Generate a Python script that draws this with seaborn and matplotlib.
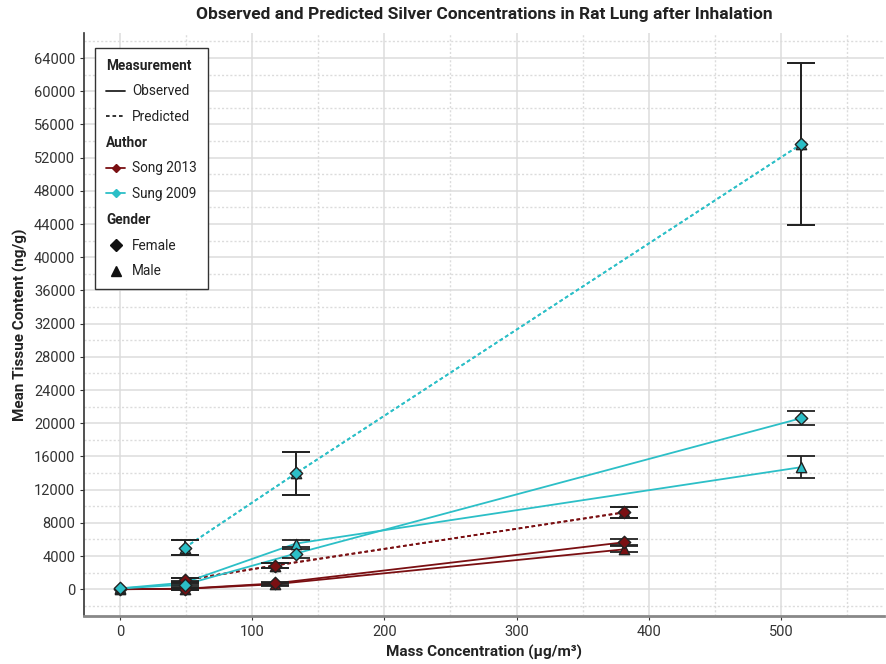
import numpy as np
import pandas as pd
import matplotlib
matplotlib.use("Agg")
import matplotlib.pyplot as plt
from matplotlib.lines import Line2D
from matplotlib.ticker import MultipleLocator
from matplotlib import font_manager
import seaborn as sns

# ---------------- data ----------------
song_x = [0, 49, 117, 381]
song_obs_female = [0, 60, 700, 5650]
song_obs_female_sd = [np.nan, 120, 200, 350]
song_obs_male = [0, 40, 600, 4800]
song_obs_male_sd = [np.nan, 120, 200, 350]

sung_x = [0, 49, 133, 515]
sung_obs_female = [100, 550, 4300, 20600]
sung_obs_female_sd = [np.nan, 200, 500, 850]
sung_obs_male = [100, 800, 5500, 14700]
sung_obs_male_sd = [np.nan, 200, 400, 1350]

song_pred_x = [49, 117, 381]
song_pred = [1100, 2850, 9250]
song_pred_sd = [250, 300, 650]

sung_pred_x = [49, 133, 515]
sung_pred = [5000, 13950, 53600]
sung_pred_sd = [900, 2600, 9750]

authors = ["Song 2013", "Sung 2009"]
author_colors = {"Song 2013": "#7a0f12", "Sung 2009": "#2cbfc7"}
gender_markers = {"Female": "D", "Male": "^"}
y_ticks = list(range(0, 64001, 4000))
x_ticks = [0, 100, 200, 300, 400, 500]

rows = []
def add(author, meas, gender, xs, ys, sds):
    for x, y, s in zip(xs, ys, sds):
        rows.append(dict(Author=author, Measurement=meas, Gender=gender, x=x, y=y, sd=s))

add("Song 2013", "Observed", "Female", song_x, song_obs_female, song_obs_female_sd)
add("Song 2013", "Observed", "Male", song_x, song_obs_male, song_obs_male_sd)
add("Sung 2009", "Observed", "Female", sung_x, sung_obs_female, sung_obs_female_sd)
add("Sung 2009", "Observed", "Male", sung_x, sung_obs_male, sung_obs_male_sd)
for g in ["Male", "Female"]:
    add("Song 2013", "Predicted", g, song_pred_x, song_pred, song_pred_sd)
    add("Sung 2009", "Predicted", g, sung_pred_x, sung_pred, sung_pred_sd)
df = pd.DataFrame(rows)

# ---------------- style ----------------
sns.set_theme(style="white")
avail = {f.name for f in font_manager.fontManager.ttflist}
fam = [f for f in ["Liberation Sans Narrow", "Roboto", "DejaVu Sans"] if f in avail]
plt.rcParams["font.family"] = fam

fig = plt.figure(figsize=(8.86, 6.64), dpi=100)
ax = fig.add_axes([0.095, 0.072, 0.903, 0.878])

dash_styles = {"Observed": "-", "Predicted": (0, (2.0, 1.6))}

for (author, meas, gender), sub in df.groupby(["Author", "Measurement", "Gender"]):
    sub = sub.sort_values("x")
    c = author_colors[author]
    sns.lineplot(data=sub, x="x", y="y", ax=ax, color=c, linewidth=1.3,
                 linestyle=dash_styles[meas], legend=False, zorder=2,
                 estimator=None, sort=False)
    m = sub.dropna(subset=["sd"])
    ax.errorbar(m["x"], m["y"], yerr=m["sd"], fmt="none", ecolor="#222222",
                elinewidth=1.3, capsize=10, capthick=1.3, zorder=3)

for gender in ["Male", "Female"]:
    for (author, meas), sub in df[df["Gender"] == gender].groupby(["Author", "Measurement"]):
        c = author_colors[author]
        sns.scatterplot(data=sub, x="x", y="y", ax=ax, color=c,
                        marker=gender_markers[gender], s=55 if gender == "Male" else 40,
                        edgecolor="#222222", linewidth=1.0, legend=False, zorder=4)

ax.set_xlim(-27, 578)
ax.set_ylim(-3250, 67000)
ax.set_xticks(x_ticks)
ax.set_yticks(y_ticks)
ax.set_yticklabels([str(v) for v in y_ticks])
ax.xaxis.set_minor_locator(MultipleLocator(50))
ax.yaxis.set_minor_locator(MultipleLocator(2000))
ax.grid(which="major", color="#dcdcdc", linewidth=1.1, linestyle="-", zorder=0)
ax.grid(which="minor", color="#dcdcdc", linewidth=1.0, linestyle=(0, (1.5, 1.5)), zorder=0)
ax.set_axisbelow(True)
for s in ["top", "right"]:
    ax.spines[s].set_visible(False)
ax.spines["left"].set_color("#333333")
ax.spines["left"].set_linewidth(1.2)
ax.spines["bottom"].set_color("#888888")
ax.spines["bottom"].set_linewidth(2.0)
ax.tick_params(axis="both", which="major", labelsize=10.5, colors="#333333",
               length=3, width=0.8, left=True, bottom=True, direction="out")
ax.tick_params(axis="both", which="minor", length=0)
for lab in ax.get_xticklabels() + ax.get_yticklabels():
    lab.set_color("#333333")

ax.set_xlabel("Mass Concentration (µg/m³)", fontsize=11, fontweight="bold", color="#222222")
ax.set_ylabel("Mean Tissue Content (ng/g)", fontsize=11, fontweight="bold", color="#222222")
ax.set_title("Observed and Predicted Silver Concentrations in Rat Lung after Inhalation",
             fontsize=12.5, fontweight="bold", color="#222222", pad=10)

# ---------------- legend ----------------
blank = Line2D([], [], linestyle="none")
handles = [
    blank,
    Line2D([], [], color="#222222", linestyle="-", linewidth=1.3),
    Line2D([], [], color="#222222", linestyle=(0, (2.0, 1.6)), linewidth=1.3),
    blank,
    Line2D([], [], color=author_colors["Song 2013"], linewidth=1.3, marker="D", markersize=4),
    Line2D([], [], color=author_colors["Sung 2009"], linewidth=1.3, marker="D", markersize=4),
    blank,
    Line2D([], [], color="#111111", linestyle="none", marker="D", markersize=6),
    Line2D([], [], color="#111111", linestyle="none", marker="^", markersize=7),
]
labels = ["Measurement", "Observed", "Predicted", "Author", "Song 2013", "Sung 2009",
          "Gender", "Female", "Male"]
headers = {"Measurement", "Author", "Gender"}
leg = ax.legend(handles, labels, loc="upper left", bbox_to_anchor=(0.014, 0.975),
                frameon=True, fancybox=False, edgecolor="#333333", framealpha=1,
                fontsize=9.8, handlelength=1.4, handletextpad=0.5,
                labelspacing=0.86, borderpad=0.8, borderaxespad=0)
leg.get_frame().set_linewidth(1.0)
for t in leg.get_texts():
    t.set_color("#222222")
    if t.get_text() in headers:
        t.set_fontweight("bold")
try:
    for col in leg._legend_handle_box.get_children():
        for row in col.get_children():
            da, tb = row.get_children()
            txt = tb.get_children()[0].get_text() if hasattr(tb, "get_children") else ""
            if txt in headers:
                da.width = 0
                row.sep = 0
except Exception:
    pass

fig.savefig("out.png", dpi=100)
